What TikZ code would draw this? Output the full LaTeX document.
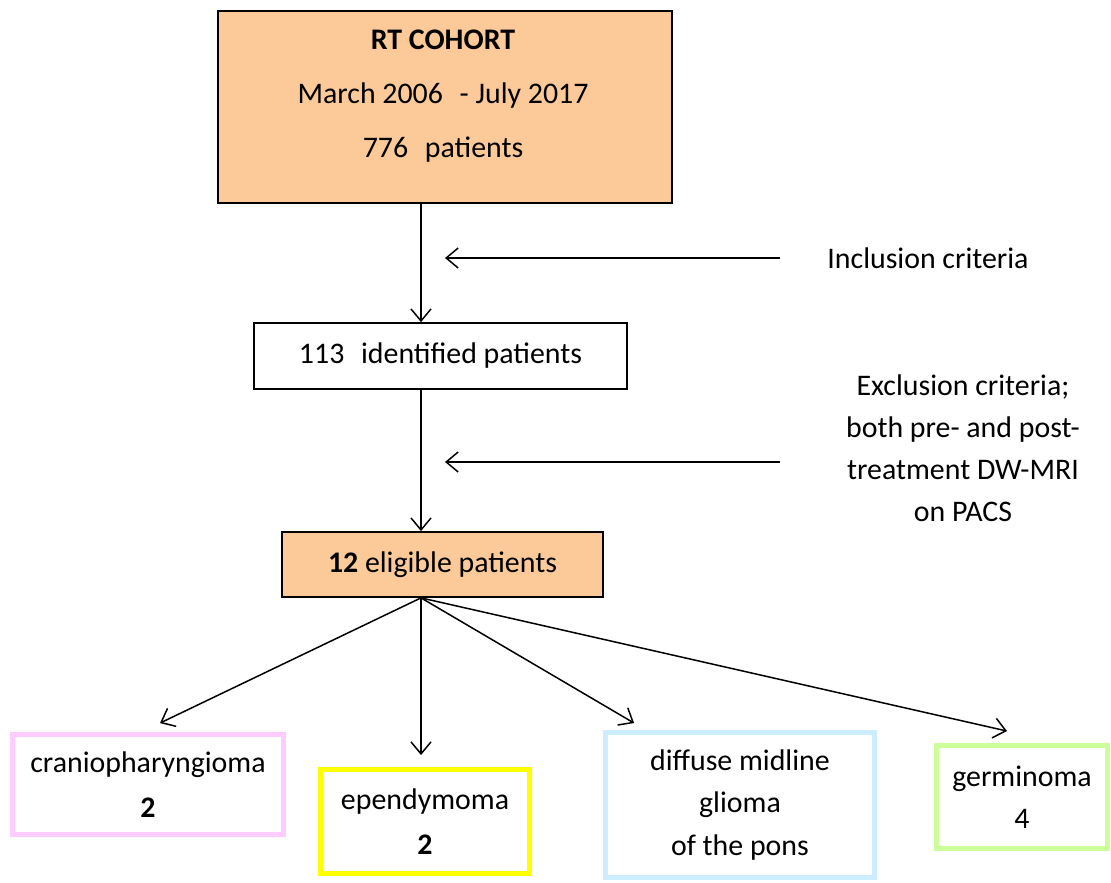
\documentclass[tikz,border=0pt]{standalone}
\usepackage{fontspec}
\setmainfont{Carlito}
\usetikzlibrary{arrows.meta}

\definecolor{peach}{RGB}{252,202,152}
\definecolor{pinkline}{RGB}{255,204,255}
\definecolor{yellowline}{RGB}{255,255,0}
\definecolor{blueline}{RGB}{204,236,255}
\definecolor{greenline}{RGB}{204,255,153}

\tikzset{
  box/.style={draw, line width=1pt, inner sep=0pt, align=center},
  tumour/.style={draw=#1, line width=2.8pt, inner sep=0pt, align=center},
  flow/.style={->, line width=0.85pt},
  >={Straight Barb[length=2.4mm,width=4mm]},
}

\begin{document}
\begin{tikzpicture}[x=0.02cm, y=-0.02cm, font=\fontsize{17}{24}\selectfont]
        \useasboundingbox (0,0) rectangle (1111,882);
        \coordinate (c) at (421,0);

        \node[box, fill=peach, minimum width=9.08cm, minimum height=3.84cm] (1) at (445,107) {};
        \node[align=center, font=\fontsize{17}{30.7}\selectfont] (1t) at (443,96) {\textbf{RT COHORT}\\March 2006\,\, - July 2017\\776\,\, patients};
        \node[box, minimum width=7.46cm, minimum height=1.32cm] (2) at (440.5,356) {113\,\, identified patients};
        \node[box, fill=peach, minimum width=6.42cm, minimum height=1.3cm] (3) at (442.5,564.5) {\textbf{12} eligible patients};

        \node (8) at (928,258) {Inclusion criteria};
        \node[align=center] (9) at (963,448) {Exclusion criteria;\\both pre- and post-\\treatment DW-MRI\\on PACS};
        \coordinate (i1) at (780,258);
        \coordinate (i2) at (445,258);
        \coordinate (e1) at (780,462);
        \coordinate (e2) at (445,462);

        \node[tumour=pinkline, minimum width=5.42cm, minimum height=2cm, font=\fontsize{17}{26}\selectfont] (4) at (148,784.5) {craniopharyngioma\\\textbf{2}};
        \node[tumour=yellowline, minimum width=4.18cm, minimum height=2.08cm, font=\fontsize{17}{26}\selectfont] (5) at (425,821.5) {ependymoma\\\textbf{2}};
        \node[tumour=blueline, minimum width=5.38cm, minimum height=2.9cm] (6) at (740,805) {diffuse midline\\glioma\\of the pons};
        \node[tumour=greenline, minimum width=3.42cm, minimum height=2.06cm] (7) at (1022,797) {germinoma\\4};

        \draw[flow] (1.south -| c) -- (2.north -| c);
        \draw[flow] (2.south -| c) -- (3.north -| c);
        \draw[flow] (i1) -- (i2);
        \draw[flow] (e1) -- (e2);

        \draw[flow] (3.south -| c) -- ([shift={(12,-9)}]4.north);
        \draw[flow] (3.south -| c) -- ([yshift=0.24cm]5.north -| c);
        \draw[flow] (3.south -| c) -- ([shift={(31,-7)}]6.north west);
        \draw[flow] (3.south -| c) -- ([shift={(-15,-12)}]7.north);
      \end{tikzpicture}
\end{document}
